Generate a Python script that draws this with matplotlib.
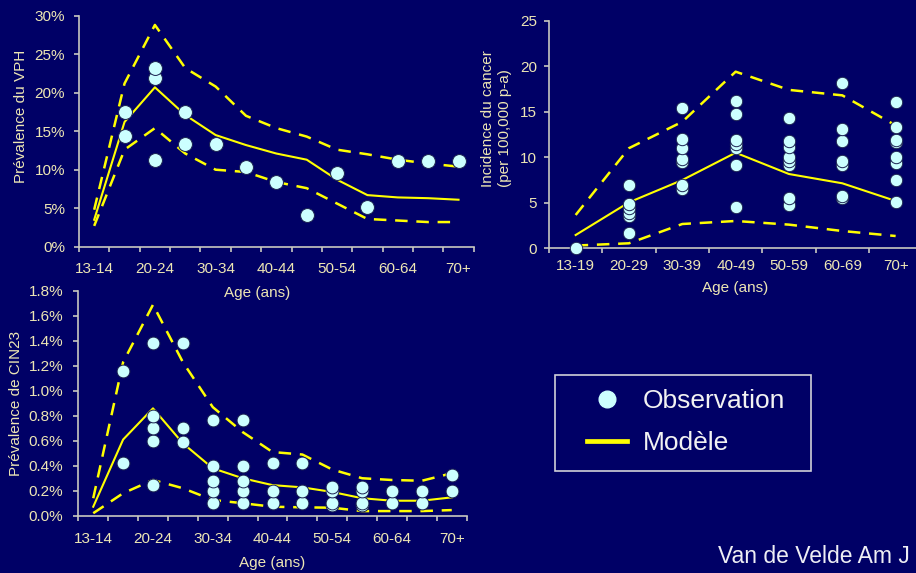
import matplotlib
matplotlib.use('Agg')
import matplotlib.pyplot as plt
import numpy as np
from matplotlib.lines import Line2D
from matplotlib.patches import Rectangle
from matplotlib.ticker import FuncFormatter, FixedLocator, FixedFormatter, NullFormatter

plt.rcParams['font.family'] = ['Liberation Sans', 'DejaVu Sans']

# ---------------- data ----------------
ages5 = ['13-14', '15-19', '20-24', '25-29', '30-34', '35-39', '40-44',
         '45-49', '50-54', '55-59', '60-64', '65-69', '70+']
ages5_labels = ['13-14', '20-24', '30-34', '40-44', '50-54', '60-64', '70+']
ages10 = ['13-19', '20-29', '30-39', '40-49', '50-59', '60-69', '70+']

# HPV prevalence (%)
hpv_mid = [3.5, 16.2, 20.7, 17.1, 14.5, 13.2, 12.1, 11.3, 8.7, 6.7, 6.4, 6.3, 6.1]
hpv_hi = [4.8, 21.2, 28.8, 23.2, 20.8, 17.0, 15.4, 14.3, 12.6, 12.0, 11.3, 10.8, 10.4]
hpv_lo = [2.7, 12.6, 15.4, 12.1, 10.0, 9.7, 8.4, 7.6, 5.6, 3.6, 3.4, 3.2, 3.2]
hpv_obs_age = ['15-19', '15-19', '20-24', '20-24', '20-24', '25-29', '25-29',
               '30-34', '35-39', '40-44', '45-49', '50-54', '55-59',
               '60-64', '65-69', '70+']
hpv_obs_val = [17.5, 14.4, 23.2, 21.9, 11.3, 17.5, 13.4, 13.3, 10.4, 8.4,
               4.1, 9.6, 5.1, 11.1, 11.1, 11.1]

# Cancer incidence (per 100,000 person-years)
can_mid = [1.46, 5.05, 7.5, 10.5, 8.16, 7.14, 5.2]
can_hi = [3.66, 11.0, 13.9, 19.4, 17.4, 16.8, 13.5]
can_lo = [0.3, 0.55, 2.67, 3.0, 2.6, 1.9, 1.35]
can_obs_age = (['13-19'] +
               ['20-29'] * 6 +
               ['30-39'] * 7 +
               ['40-49'] * 7 +
               ['50-59'] * 8 +
               ['60-69'] * 7 +
               ['70+'] * 8)
can_obs_val = ([0.0] +
               [7.0, 4.9, 4.4, 3.9, 3.55, 1.65] +
               [15.4, 12.0, 11.0, 9.8, 9.45, 7.0, 6.5] +
               [16.2, 14.8, 11.9, 11.45, 11.0, 9.2, 4.55] +
               [14.3, 11.8, 11.15, 10.0, 9.6, 9.15, 5.5, 4.75] +
               [18.2, 13.1, 11.8, 9.6, 9.15, 5.75, 5.5] +
               [16.05, 13.35, 11.9, 11.7, 10.0, 9.35, 7.45, 5.05])

# CIN2/3 prevalence (%)
cin_mid = [0.072, 0.61, 0.86, 0.58, 0.38, 0.30, 0.245, 0.227, 0.19, 0.14, 0.12, 0.12, 0.147]
cin_hi = [0.14, 1.23, 1.69, 1.23, 0.87, 0.67, 0.51, 0.49, 0.37, 0.30, 0.286, 0.28, 0.34]
cin_lo = [0.02, 0.18, 0.286, 0.22, 0.126, 0.10, 0.072, 0.067, 0.064, 0.037, 0.037, 0.037, 0.045]
cin_obs_age = (['15-19'] * 2 + ['20-24'] * 5 + ['25-29'] * 3 + ['30-34'] * 5 +
               ['35-39'] * 5 + ['40-44'] * 3 + ['45-49'] * 3 + ['50-54'] * 4 +
               ['55-59'] * 4 + ['60-64'] * 2 + ['65-69'] * 2 + ['70+'] * 2)
cin_obs_val = ([1.16, 0.42] +
               [1.38, 0.80, 0.70, 0.60, 0.246] +
               [1.38, 0.70, 0.59] +
               [0.77, 0.40, 0.28, 0.20, 0.10] +
               [0.77, 0.40, 0.28, 0.20, 0.10] +
               [0.42, 0.20, 0.10] +
               [0.42, 0.20, 0.10] +
               [0.23, 0.20, 0.10, 0.085] +
               [0.23, 0.20, 0.10, 0.085] +
               [0.20, 0.10] +
               [0.20, 0.10] +
               [0.33, 0.20])

# ---------------- style ----------------
W, H = 916, 573
BG = '#000066'
TXT = '#EDE6B4'
AXC = '#C8C8C0'
YEL = '#FFFF00'
MK = '#CCFFFF'
MKE = '#1A2050'
DASH = (0, (5, 3.5))

fig = plt.figure(figsize=(W / 100, H / 100), dpi=100, facecolor=BG)


def rect(l, t, r, b):
    return [l / W, 1 - b / H, (r - l) / W, (b - t) / H]


def style(ax, cats, labels, ylim, yticks, yfmt, xpad, ypad):
    ax.set_facecolor('none')
    for s in ['top', 'right']:
        ax.spines[s].set_visible(False)
    for s in ['left', 'bottom']:
        ax.spines[s].set_color(AXC)
        ax.spines[s].set_linewidth(1.2)
    n = len(cats)
    ax.set_xlim(-0.5, n - 0.5)
    ax.set_ylim(*ylim)
    ax.xaxis.set_major_locator(FixedLocator(np.arange(-0.5, n, 1.0)))
    ax.xaxis.set_major_formatter(NullFormatter())
    ax.xaxis.set_minor_locator(FixedLocator([cats.index(c) for c in labels]))
    ax.xaxis.set_minor_formatter(FixedFormatter(labels))
    ax.tick_params(axis='x', which='major', direction='out', length=3.5,
                   width=1.2, color=AXC)
    ax.tick_params(axis='x', which='minor', length=0, pad=xpad,
                   labelsize=11, labelcolor=TXT)
    ax.set_yticks(yticks)
    ax.yaxis.set_major_formatter(FuncFormatter(yfmt))
    ax.tick_params(axis='y', direction='out', length=3.5, width=1.2,
                   color=AXC, pad=ypad, labelsize=11, labelcolor=TXT)


def draw(ax, cats, mid, hi, lo, obs_age, obs_val, msize):
    x = np.arange(len(cats))
    ax.plot(x, mid, color=YEL, lw=1.5, zorder=2, clip_on=False)
    ax.plot(x, hi, color=YEL, lw=1.8, ls=DASH, zorder=2, clip_on=False)
    ax.plot(x, lo, color=YEL, lw=1.8, ls=DASH, zorder=2, clip_on=False)
    xi = np.array([cats.index(a) for a in obs_age])
    yv = np.array(obs_val)
    order = np.argsort(yv, kind='stable')
    ax.scatter(xi[order], yv[order], s=msize, c=MK, edgecolors=MKE,
               linewidths=0.7, zorder=3, clip_on=False)


def labels(ax, box, xl_center, yl_pos, ytext, yha='center'):
    l, t, r, b = box
    ax.set_xlabel('Age (ans)', fontsize=11, color=TXT)
    ax.xaxis.label.set_va('center')
    ax.xaxis.set_label_coords((xl_center[0] - l) / (r - l),
                              (b - xl_center[1]) / (b - t))
    ax.set_ylabel(ytext, fontsize=11, color=TXT, ha=yha, va='center',
                  multialignment='left', linespacing=1.35)
    ax.yaxis.set_label_coords((yl_pos[0] - l) / (r - l),
                              (b - yl_pos[1]) / (b - t))


# top-left: HPV prevalence
box1 = (79, 15.7, 473.7, 246.7)
ax1 = fig.add_axes(rect(*box1))
style(ax1, ages5, ages5_labels, (0, 30), np.arange(0, 31, 5),
      lambda v, p: f'{v:.0f}%', xpad=11, ypad=6.5)
draw(ax1, ages5, hpv_mid, hpv_hi, hpv_lo, hpv_obs_age, hpv_obs_val, 100)
labels(ax1, box1, (257, 293), (20.7, 116.7), 'Prévalence du VPH')

# top-right: cancer incidence
box2 = (549, 20.7, 922.3, 248.3)
ax2 = fig.add_axes(rect(*box2))
style(ax2, ages10, ages10, (0, 25), np.arange(0, 26, 5),
      lambda v, p: f'{v:.0f}', xpad=7.5, ypad=5.3)
draw(ax2, ages10, can_mid, can_hi, can_lo, can_obs_age, can_obs_val, 80)
labels(ax2, box2, (735, 288), (496.5, 187),
       'Incidence du cancer\n(per 100,000 p-a)', yha='left')

# bottom-left: CIN2/3 prevalence
box3 = (78.3, 291, 466.7, 515.7)
ax3 = fig.add_axes(rect(*box3))
style(ax3, ages5, ages5_labels, (0, 1.8), np.arange(0, 1.81, 0.2),
      lambda v, p: f'{v:.1f}%', xpad=12, ypad=7.2)
draw(ax3, ages5, cin_mid, cin_hi, cin_lo, cin_obs_age, cin_obs_val, 85)
labels(ax3, box3, (272, 563), (16, 403.3), 'Prévalence de CIN23')

# legend
fig.add_artist(Rectangle((555 / W, 1 - 471 / H), (811 - 555) / W, (471 - 375) / H,
                         transform=fig.transFigure, fill=False,
                         edgecolor='#D0D0D8', lw=1.2))
handles = [Line2D([], [], ls='none', marker='o', ms=12, mfc=MK, mec=MK),
           Line2D([], [], color=YEL, lw=3.4)]
fig.legend(handles=handles, labels=['Observation', 'Modèle'],
           loc='upper left', bbox_to_anchor=(587 / W, 1 - 389 / H),
           frameon=False, borderpad=0, borderaxespad=0, fontsize=19,
           handlelength=1.52, handletextpad=0.61, labelspacing=0.68,
           labelcolor='#F2F2F2')

fig.text(910 / W, 1 - 563 / H, 'Van de Velde Am J', ha='right',
         va='baseline', fontsize=16.5, color='#EEEEF4')

fig.savefig('out.png', dpi=100, facecolor=BG)
